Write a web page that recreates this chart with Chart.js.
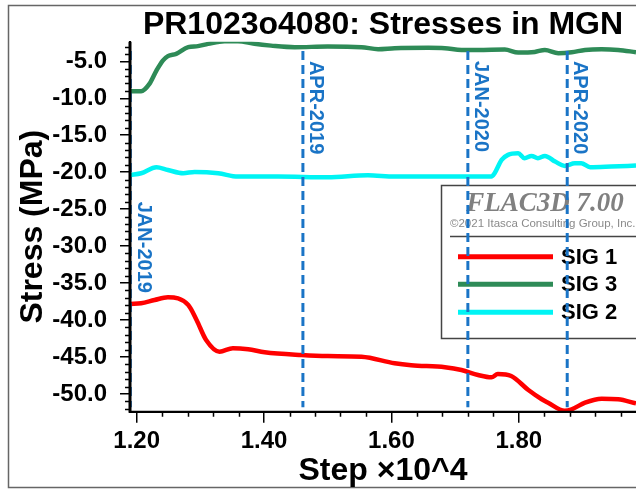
<!DOCTYPE html>
<html>
<head>
<meta charset="utf-8">
<title>PR1023o4080: Stresses in MGN</title>
<script src="https://cdn.jsdelivr.net/npm/chart.js@4.4.1/dist/chart.umd.min.js"></script>
<style>
    html, body { margin: 0; padding: 0; background: #ffffff; }
    canvas { display: block; }
</style>
</head>
<body>
<canvas id="stressChart" width="636" height="489"></canvas>
<script>
// Step values are in units of 10^4
var sig1Steps = [1.19, 1.207, 1.228, 1.249, 1.281, 1.294, 1.309, 1.330, 1.351, 1.375, 1.401, 1.459, 1.500, 1.553, 1.605, 1.631, 1.684, 1.710, 1.736, 1.757, 1.767, 1.788, 1.815, 1.836, 1.846, 1.872, 1.883, 1.904, 1.930, 1.956, 1.984];
var sig1Values = [-37.83, -37.73, -37.29, -36.92, -37.96, -39.99, -42.70, -44.28, -43.82, -43.96, -44.36, -44.73, -44.87, -44.96, -45.85, -46.12, -46.39, -46.76, -47.43, -47.75, -47.30, -47.57, -49.47, -50.72, -51.18, -52.26, -52.07, -51.18, -50.64, -50.72, -51.27];

var sig3Steps = [1.19, 1.207, 1.220, 1.231, 1.241, 1.249, 1.262, 1.281, 1.296, 1.312, 1.338, 1.359, 1.385, 1.411, 1.448, 1.500, 1.553, 1.579, 1.605, 1.658, 1.684, 1.710, 1.736, 1.778, 1.799, 1.825, 1.841, 1.862, 1.883, 1.904, 1.930, 1.956, 1.984];
var sig3Values = [-9.05, -9.05, -8.06, -6.26, -4.90, -4.30, -4.00, -3.09, -2.95, -2.64, -2.28, -2.28, -2.64, -2.88, -3.09, -3.01, -3.09, -3.36, -3.23, -3.18, -3.23, -3.46, -3.46, -3.41, -3.82, -3.73, -3.46, -3.90, -3.77, -3.46, -3.36, -3.46, -3.77];

var sig2Steps = [1.19, 1.207, 1.231, 1.249, 1.273, 1.291, 1.328, 1.359, 1.422, 1.500, 1.563, 1.605, 1.684, 1.757, 1.762, 1.773, 1.783, 1.799, 1.809, 1.820, 1.830, 1.841, 1.857, 1.872, 1.888, 1.898, 1.912, 1.945, 1.984];
var sig2Values = [-20.37, -20.14, -19.33, -19.70, -20.14, -19.97, -20.14, -20.60, -20.60, -20.68, -20.41, -20.60, -20.60, -20.60, -20.14, -18.34, -17.66, -17.44, -18.11, -17.80, -18.11, -17.80, -18.57, -19.15, -18.79, -18.79, -19.33, -19.24, -19.10];

// Date markers
var dateSteps = [1.19, 1.461, 1.720, 1.876];
var dateLabels = ['JAN-2019', 'APR-2019', 'JAN-2020', 'APR-2020'];
var dateLabelTops = [-24.0, -4.95, -4.95, -4.95];
var dateLineRange = [-3.6, -51.8];

var xTicks = [1.20, 1.40, 1.60, 1.80];
var yTicks = [-50, -45, -40, -35, -30, -25, -20, -15, -10, -5];

var FONT = 'Liberation Sans, Arial, Helvetica, sans-serif';
var DATE_BLUE = '#1a74c6';

function toPoints(steps, values) {
    return steps.map(function (s, i) { return { x: s, y: values[i] }; });
}

var curveDatasets = [
    { label: 'SIG 1', data: toPoints(sig1Steps, sig1Values), borderColor: '#ff0000' },
    { label: 'SIG 3', data: toPoints(sig3Steps, sig3Values), borderColor: '#2e8b57' },
    { label: 'SIG 2', data: toPoints(sig2Steps, sig2Values), borderColor: '#00f4f4' }
].map(function (ds) {
    ds.borderWidth = 4.5;
    ds.pointRadius = 0;
    ds.cubicInterpolationMode = 'monotone';
    ds.order = 1;
    return ds;
});

var dateDatasets = dateSteps.map(function (s, i) {
    return {
        label: dateLabels[i],
        data: [{ x: s, y: dateLineRange[0] }, { x: s, y: dateLineRange[1] }],
        borderColor: DATE_BLUE,
        borderWidth: 3,
        borderDash: [9, 5],
        pointRadius: 0,
        order: 0
    };
});

// frame, titles, minor ticks and date labels
var decorPlugin = {
    id: 'decor',
    beforeDraw: function (chart) {
        var c = chart.ctx;
        c.save();
        c.fillStyle = '#ffffff';
        c.fillRect(0, 0, chart.width, chart.height);
        c.strokeStyle = '#666666';
        c.lineWidth = 1.5;
        c.strokeRect(8.5, 5.5, chart.width + 20, 482);
        c.restore();
    },
    beforeDatasetsDraw: function (chart) {
        // legend panel sits under the date lines
        var c = chart.ctx;
        c.save();
        c.strokeStyle = '#444444';
        c.lineWidth = 1.5;
        c.strokeRect(441.5, 185.5, chart.width, 153);
        c.beginPath();
        c.moveTo(450, 236.5);
        c.lineTo(chart.width, 236.5);
        c.stroke();

        c.fillStyle = '#808080';
        c.textAlign = 'center';
        c.textBaseline = 'alphabetic';
        c.font = 'italic bold 27px Liberation Serif, Times New Roman, serif';
        c.fillText('FLAC3D 7.00', 545, 211);
        c.font = '11.5px ' + FONT;
        c.textAlign = 'left';
        c.fillStyle = '#8a8a8a';
        c.fillText('\u00a92021 Itasca Consulting Group, Inc.', 450, 227);

        var rows = [256.7, 284.3, 312.3];
        curveDatasets.forEach(function (ds, i) {
            c.strokeStyle = ds.borderColor;
            c.lineWidth = 5;
            c.beginPath();
            c.moveTo(458, rows[i]);
            c.lineTo(553, rows[i]);
            c.stroke();
            c.fillStyle = '#000000';
            c.font = 'bold 22px ' + FONT;
            c.textBaseline = 'middle';
            c.fillText(ds.label, 561, rows[i] + 1);
        });
        c.restore();
    },
    afterDraw: function (chart) {
        var c = chart.ctx;
        var xs = chart.scales.x;
        var ys = chart.scales.y;
        var area = chart.chartArea;
        c.save();

        // axis lines again so the first date line stays hidden under them
        c.strokeStyle = '#000000';
        c.lineWidth = 3;
        c.beginPath();
        c.moveTo(area.left, area.top);
        c.lineTo(area.left, area.bottom + 1);
        c.stroke();
        c.lineWidth = 2;
        c.beginPath();
        c.moveTo(area.left, area.bottom);
        c.lineTo(area.right, area.bottom);
        c.stroke();

        // minor ticks
        c.lineWidth = 1.5;
        c.beginPath();
        for (var v = Math.ceil(ys.min); v <= ys.max; v += 1) {
            if (v % 5 === 0) continue;
            var py = Math.round(ys.getPixelForValue(v)) + 0.5;
            c.moveTo(area.left - 5, py);
            c.lineTo(area.left, py);
        }
        for (var k = 0; k <= 20; k++) {
            var sv = 1.20 + k * 0.04;
            if (sv > xs.max || k % 5 === 0) continue;
            var px = Math.round(xs.getPixelForValue(sv)) + 0.5;
            c.moveTo(px, area.bottom);
            c.lineTo(px, area.bottom + 5);
        }
        c.stroke();

        // date labels, rotated to read downwards
        c.fillStyle = DATE_BLUE;
        c.font = 'bold 20px ' + FONT;
        c.textAlign = 'left';
        c.textBaseline = 'alphabetic';
        dateSteps.forEach(function (s, i) {
            var lx = xs.getPixelForValue(s) + 7;
            var ly = ys.getPixelForValue(dateLabelTops[i]);
            if (i === 0) lx = area.left + 8;
            c.save();
            c.translate(lx, ly);
            c.rotate(Math.PI / 2);
            c.fillText(dateLabels[i], 0, 0);
            c.restore();
        });

        // titles
        var cx = (area.left + area.right) / 2;
        c.fillStyle = '#000000';
        c.textAlign = 'center';
        c.textBaseline = 'alphabetic';
        c.font = 'bold 32px ' + FONT;
        c.fillText('PR1023o4080: Stresses in MGN', cx, 33.5);
        c.fillText('Step \u00d710^4', cx, 480);

        c.save();
        c.translate(42, (area.top + area.bottom) / 2);
        c.rotate(-Math.PI / 2);
        c.fillText('Stress (MPa)', 0, 0);
        c.restore();

        c.restore();
    }
};

new Chart(document.getElementById('stressChart'), {
    type: 'line',
    data: { datasets: dateDatasets.concat(curveDatasets) },
    options: {
        responsive: false,
        animation: false,
        devicePixelRatio: 1,
        layout: { padding: { top: 41.7, right: 0, left: 0, bottom: 0 } },
        plugins: { legend: { display: false }, tooltip: { enabled: false }, title: { display: false } },
        scales: {
            x: {
                type: 'linear',
                min: 1.1895,
                max: 1.984,
                afterFit: function (scale) { scale.height = 77.3; },
                afterBuildTicks: function (scale) { scale.ticks = xTicks.map(function (v) { return { value: v }; }); },
                grid: { drawOnChartArea: false, drawTicks: true, tickLength: 11, color: '#000000', lineWidth: 1.5 },
                border: { display: true, color: '#000000', width: 2 },
                ticks: {
                    color: '#000000',
                    padding: 4,
                    maxRotation: 0,
                    font: { family: FONT, size: 24, weight: 'bold' },
                    callback: function (v) { return Number(v).toFixed(2); }
                }
            },
            y: {
                type: 'linear',
                min: -52.4,
                max: -2.35,
                afterFit: function (scale) { scale.width = 130; },
                afterBuildTicks: function (scale) { scale.ticks = yTicks.map(function (v) { return { value: v }; }); },
                grid: { drawOnChartArea: false, drawTicks: true, tickLength: 10, color: '#000000', lineWidth: 1.5 },
                border: { display: true, color: '#000000', width: 2 },
                ticks: {
                    color: '#000000',
                    padding: 13,
                    font: { family: FONT, size: 24, weight: 'bold' },
                    callback: function (v) { return Number(v).toFixed(1); }
                }
            }
        }
    },
    plugins: [decorPlugin]
});
</script>
</body>
</html>
